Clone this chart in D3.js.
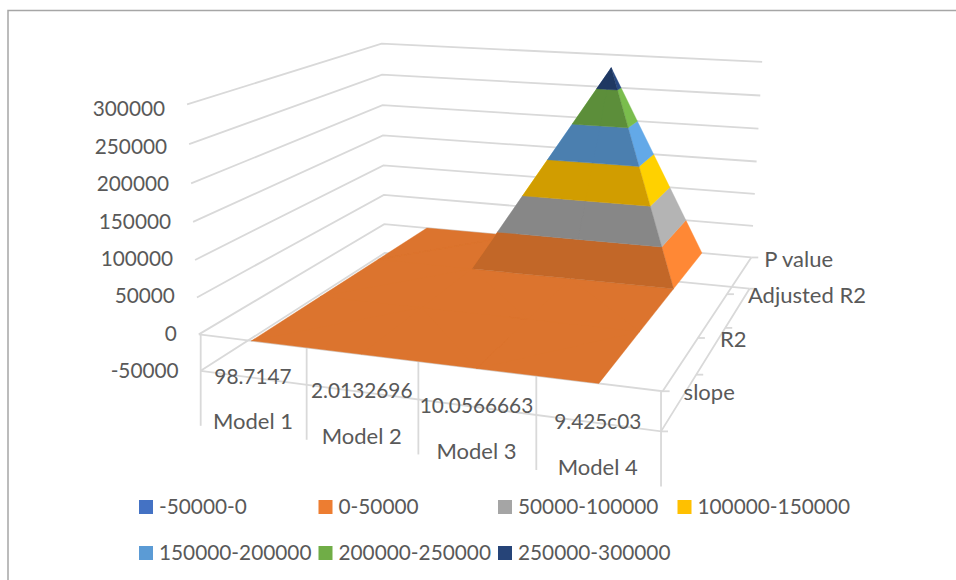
<!DOCTYPE html>
<html>
<head>
<meta charset="utf-8">
<script src="https://cdn.jsdelivr.net/npm/d3@7"></script>
<style>
  body { margin: 0; background: #fff; }
  text { font-family: Lato, "Open Sans", sans-serif; font-size: 20.8px; fill: #595959; }
  .model-label, .series-label { font-size: 22px; }
</style>
</head>
<body>
<svg class="surface-svg" width="956" height="580"></svg>
<script>
const models = ["Model 1", "Model 2", "Model 3", "Model 4"];
const innerLabels = ["98.7147", "2.0132696", "10.0566663", "9.425c03"];
const seriesNames = ["slope", "R2", "Adjusted R2", "P value"];

const slopeValues = [98.7147, 2.0132696, 10.0566663, 9.425];
const r2Values = [0.98, 0.61, 0.75, 0.82];
const adjustedR2Values = [0.97, 0.58, 0.73, 0.8];
const pValues = [0.01, 0.03, 280000, 0.02];

const yTicks = [-50000, 0, 50000, 100000, 150000, 200000, 250000, 300000];
const bandLabels = ["-50000-0", "0-50000", "50000-100000", "100000-150000", "150000-200000", "200000-250000", "250000-300000"];
const bandColors = ["#4472C4", "#ED7D31", "#A5A5A5", "#FFC000", "#5B9BD5", "#70AD47", "#264478"];

const svg = d3.select(".surface-svg");
const gridColor = "#D9D9D9";

// u, v run 0..1 along models and series, w is value / axis max
const uScale = d3.scaleBand().domain(models).range([0, 1]);
const vScale = d3.scalePoint().domain(seriesNames).range([0, 1]);
const wScale = d3.scaleLinear().domain([0, 300000]).range([0, 1]);

// camera calibration: [u, v, w, screenX, screenY]
const cameraAnchors = [
  [0, 0, 0, 200, 334], [1, 0, 0, 662, 391], [1, 1, 0, 751, 257], [0, 1, 0, 384, 224],
  [0, 0, 1, 187, 106], [0, 1, 1, 382, 43], [1, 1, 1, 762, 62],
  [0, 0, -1 / 6, 200, 370], [1, 0, -1 / 6, 662, 430], [1, 1, -1 / 6, 749, 290],
  [1 / 8, 0, 0, 250, 342], [7 / 8, 0, 0, 598, 383], [1 / 8, 1, 0, 428, 228], [7 / 8, 1, 0, 701, 253],
  [3 / 8, 2 / 3, 0, 472, 269], [7 / 8, 2 / 3, 0, 673, 289], [5 / 8, 1, 14 / 15, 611, 67],
  [1, 1 / 3, 0, 700, 338], [1, 2 / 3, 0, 728, 295],
];

function solveLinear(A, b) {
  const n = b.length;
  const m = A.map((row, i) => [...row, b[i]]);
  for (let c = 0; c < n; c++) {
    let pivot = c;
    for (let r = c + 1; r < n; r++) if (Math.abs(m[r][c]) > Math.abs(m[pivot][c])) pivot = r;
    [m[c], m[pivot]] = [m[pivot], m[c]];
    for (let r = 0; r < n; r++) {
      if (r === c) continue;
      const f = m[r][c] / m[c][c];
      for (let k = c; k <= n; k++) m[r][k] -= f * m[c][k];
    }
  }
  return m.map((row, i) => row[n] / row[i]);
}

function fitCamera(anchors) {
  const rows = [];
  const rhs = [];
  anchors.forEach(([u, v, w, sx, sy]) => {
    const x = sx / 1000;
    const y = sy / 1000;
    rows.push([u, v, w, 1, 0, 0, 0, 0, -x * u, -x * v, -x * w]);
    rhs.push(x);
    rows.push([0, 0, 0, 0, u, v, w, 1, -y * u, -y * v, -y * w]);
    rhs.push(y);
  });
  const ata = d3.range(11).map((a) => d3.range(11).map((b) => d3.sum(rows, (r) => r[a] * r[b])));
  const atb = d3.range(11).map((a) => d3.sum(rows, (r, i) => r[a] * rhs[i]));
  return solveLinear(ata, atb);
}

const cam = fitCamera(cameraAnchors);

function project(u, v, w) {
  const d = cam[8] * u + cam[9] * v + cam[10] * w + 1;
  return [
    (1000 * (cam[0] * u + cam[1] * v + cam[2] * w + cam[3])) / d,
    (1000 * (cam[4] * u + cam[5] * v + cam[6] * w + cam[7])) / d,
  ];
}

const line = d3.line();
const uCentre = (m) => uScale(m) + uScale.bandwidth() / 2;

function gridLine(points) {
  svg.append("path")
    .attr("d", line(points))
    .attr("fill", "none")
    .attr("stroke", gridColor)
    .attr("stroke-width", 1.8);
}

// chart frame, cut by the picture on the right and at the bottom
svg.append("path")
  .attr("d", "M8,580V10.5H956")
  .attr("fill", "none")
  .attr("stroke", "#A6A6A6")
  .attr("stroke-width", 1.5);

// walls
yTicks.forEach((t) => {
  const w = wScale(t);
  gridLine([project(0, 0, w), project(0, 1, w), project(1, 1, w)]);
});

// floor lines, front and right
[0, -50000].forEach((t) => {
  const w = wScale(t);
  gridLine([project(0, 0, w), project(1, 0, w), project(1, 1, w)]);
  seriesNames.forEach((s) => {
    const p = project(1, vScale(s), w);
    gridLine([p, [p[0] + 7, p[1]]]);
  });
});

// category dividers below the floor
d3.range(0, 5).forEach((i) => {
  const u = uScale.step() * i;
  const top = project(u, 0, 0);
  const low = project(u, 0, wScale(-50000));
  gridLine([[low[0], top[1]], [low[0], low[1] + 55]]);
});

// surface triangles
const valueRows = [slopeValues, r2Values, adjustedR2Values, pValues];
const vertex = (i, j) => ({
  u: uCentre(models[i]),
  v: vScale(seriesNames[j]),
  value: valueRows[j][i],
});

const triangles = [];
d3.range(models.length - 1).forEach((i) => {
  d3.range(seriesNames.length - 1).forEach((j) => {
    const a = vertex(i, j);
    const b = vertex(i + 1, j);
    const c = vertex(i + 1, j + 1);
    const d = vertex(i, j + 1);
    const top = Math.max(a.value, b.value, c.value, d.value);
    // split the cell along the diagonal through its highest corner
    if (a.value === top || c.value === top) {
      triangles.push([a, b, c], [a, c, d]);
    } else {
      triangles.push([a, b, d], [b, c, d]);
    }
  });
});

function clipAbove(poly, limit, sign) {
  const out = [];
  poly.forEach((p, i) => {
    const q = poly[(i + 1) % poly.length];
    const pIn = sign * (p.value - limit) >= 0;
    const qIn = sign * (q.value - limit) >= 0;
    if (pIn) out.push(p);
    if (pIn !== qIn) {
      const t = (limit - p.value) / (q.value - p.value);
      out.push({ u: p.u + t * (q.u - p.u), v: p.v + t * (q.v - p.v), value: limit });
    }
  });
  return out;
}

// flat floor, steep front and steep side get different light
function shadeOf(tri) {
  const [a, b, c] = tri.map((p) => [p.u * 4, p.value / 50000, p.v * 3]);
  const e1 = [b[0] - a[0], b[1] - a[1], b[2] - a[2]];
  const e2 = [c[0] - a[0], c[1] - a[1], c[2] - a[2]];
  const n = [
    e1[1] * e2[2] - e1[2] * e2[1],
    e1[2] * e2[0] - e1[0] * e2[2],
    e1[0] * e2[1] - e1[1] * e2[0],
  ];
  const len2 = n[0] * n[0] + n[1] * n[1] + n[2] * n[2];
  return Math.round((100 * (1.09 * n[0] * n[0] + 0.93 * n[1] * n[1] + 0.82 * n[2] * n[2])) / len2) / 100;
}

function shaded(color, k) {
  const c = d3.rgb(color);
  return d3.rgb(Math.min(255, c.r * k), Math.min(255, c.g * k), Math.min(255, c.b * k)).formatHex();
}

const drawOrder = triangles.slice().sort((p, q) =>
  d3.ascending(d3.max(p, (d) => d.value), d3.max(q, (d) => d.value)) ||
  d3.descending(d3.mean(p, (d) => d.v), d3.mean(q, (d) => d.v))
);

// pieces of one colour go into one path, so no seams show between them
const pieces = [];
drawOrder.forEach((tri) => {
  const k = shadeOf(tri);
  bandLabels.forEach((label, b) => {
    const piece = clipAbove(clipAbove(tri, yTicks[b], 1), yTicks[b + 1], -1);
    if (piece.length < 3) return;
    pieces.push({
      fill: shaded(bandColors[b], k),
      d: line(piece.map((p) => project(p.u, p.v, wScale(p.value)))) + "Z",
    });
  });
});

svg.selectAll(".surface-piece")
  .data(d3.rollups(pieces, (v) => v.map((p) => p.d).join(""), (p) => p.fill))
  .join("path")
  .attr("class", "surface-piece")
  .attr("d", (d) => d[1])
  .attr("fill", (d) => d[0])
  .attr("stroke", (d) => d[0])
  .attr("stroke-width", 0.4);

// value axis labels, evenly spaced in the reference
const yLabelScale = d3.scaleLinear().domain([-50000, 300000]).range([373, 111]);
svg.selectAll(".y-label")
  .data(yTicks)
  .join("text")
  .attr("class", "y-label")
  .attr("text-anchor", "end")
  .attr("dominant-baseline", "middle")
  .attr("x", (d) => project(0, 0, wScale(d))[0] - 22)
  .attr("y", (d) => yLabelScale(d))
  .text((d) => d);

// two level category labels
const lowPoint = (m) => project(uCentre(m), 0, wScale(-50000));
svg.selectAll(".inner-label")
  .data(models)
  .join("text")
  .attr("class", "inner-label")
  .attr("text-anchor", "middle")
  .attr("dominant-baseline", "middle")
  .attr("x", (d) => lowPoint(d)[0])
  .attr("y", (d) => lowPoint(d)[1] + 1)
  .text((d, i) => innerLabels[i]);

svg.selectAll(".model-label")
  .data(models)
  .join("text")
  .attr("class", "model-label")
  .attr("text-anchor", "middle")
  .attr("dominant-baseline", "middle")
  .attr("x", (d) => lowPoint(d)[0])
  .attr("y", (d) => lowPoint(d)[1] + 46)
  .text((d) => d);

// series labels
const seriesLabelDx = [21, 22, 21, 13];
svg.selectAll(".series-label")
  .data(seriesNames)
  .join("text")
  .attr("class", "series-label")
  .attr("dominant-baseline", "middle")
  .attr("x", (d, i) => project(1, vScale(d), 0)[0] + seriesLabelDx[i])
  .attr("y", (d) => project(1, vScale(d), 0)[1] + 3.5)
  .text((d) => d);

// legend
const legendX = d3.scaleLinear().domain([0, 1]).range([139, 318.5]);
const legendY = d3.scaleLinear().domain([0, 1]).range([500, 546]);
const legend = svg.selectAll(".legend-item")
  .data(bandLabels)
  .join("g")
  .attr("class", "legend-item")
  .attr("transform", (d, i) => `translate(${legendX(i < 4 ? i : i - 4)},${legendY(i < 4 ? 0 : 1)})`);

legend.append("rect")
  .attr("width", 14)
  .attr("height", 14)
  .attr("fill", (d, i) => bandColors[i]);

legend.append("text")
  .attr("x", 20)
  .attr("y", 8.5)
  .attr("dominant-baseline", "middle")
  .text((d) => d);
</script>
</body>
</html>
